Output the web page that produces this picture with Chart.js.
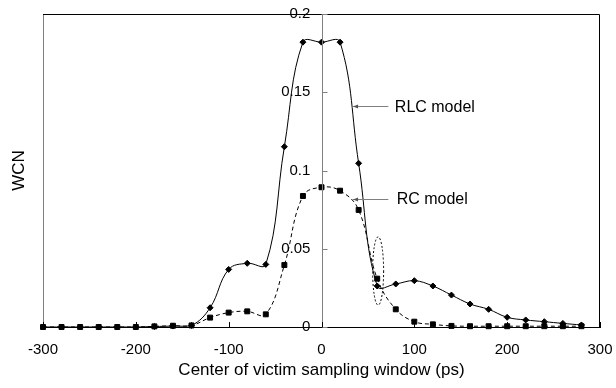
<!DOCTYPE html>
<html>
<head>
<meta charset="utf-8">
<script src="https://cdn.jsdelivr.net/npm/chart.js@4"></script>
<style>
  html, body { margin: 0; padding: 0; background: #fff; }
</style>
</head>
<body>
<canvas id="wcnChart" width="616" height="388"></canvas>
<script>
// sampling window centres (ps)
const windowCenters = [-300, -280, -260, -240, -220, -200, -180, -160, -140, -120,
  -100, -80, -60, -40, -20, 0, 20, 40, 60, 80,
  100, 120, 140, 160, 180, 200, 220, 240, 260, 280];

const rlcValues = [0, 0, 0, 0, 0, 0, 0.0003, 0.0006, 0.001, 0.0123,
  0.0368, 0.0407, 0.0400, 0.1152, 0.182, 0.182, 0.182, 0.1046, 0.0262, 0.0275,
  0.0296, 0.0262, 0.0204, 0.0147, 0.0113, 0.0062, 0.0045, 0.0034, 0.0023, 0.0013];

const rcValues = [0, 0, 0, 0, 0, 0, 0.0004, 0.0008, 0.001, 0.006,
  0.0092, 0.0100, 0.0081, 0.0396, 0.0837, 0.0893, 0.0871, 0.0748, 0.0309, 0.0113,
  0.0034, 0.0017, 0.0007, 0.0005, 0.0005, 0.0005, 0.0005, 0.0005, 0.0005, 0.0005];

const yTickLabels = ['0', '0.05', '0.1', '0.15', '0.2'];

const FONT = "'Liberation Sans', Arial, sans-serif";

const toPoints = vals => vals.map((v, i) => ({x: windowCenters[i], y: v}));

// callouts, in data units
const callouts = [
  {text: 'RLC model', from: [72, 0.141], to: [34, 0.141], label: [79, 0.1405]},
  {text: 'RC model', from: [72, 0.0818], to: [34, 0.0818], label: [81, 0.0812]}
];

const noOverhang = s => {
  s.paddingLeft = 0; s.paddingRight = 0; s.paddingTop = 0; s.paddingBottom = 0;
};

const extras = {
  id: 'extras',
  afterDatasetsDraw(chart) {
    const {ctx, chartArea: a, scales: {x, y}} = chart;
    ctx.save();
    ctx.lineWidth = 1;

    // frame
    ctx.strokeStyle = '#808080';
    ctx.beginPath();
    ctx.moveTo(a.left + 0.5, a.bottom);
    ctx.lineTo(a.left + 0.5, a.top + 0.5);
    ctx.stroke();
    ctx.strokeStyle = '#000';
    ctx.beginPath();
    ctx.moveTo(a.left, a.top + 0.5);
    ctx.lineTo(a.right - 0.5, a.top + 0.5);
    ctx.lineTo(a.right - 0.5, a.bottom);
    ctx.stroke();

    // y axis line at x = 0 with inward ticks
    const x0 = Math.round(x.getPixelForValue(0)) + 0.5;
    ctx.strokeStyle = '#808080';
    ctx.beginPath();
    ctx.moveTo(x0, a.top);
    ctx.lineTo(x0, a.bottom);
    ctx.stroke();
    y.ticks.forEach(t => {
      const py = Math.round(y.getPixelForValue(t.value)) + 0.5;
      ctx.beginPath();
      ctx.moveTo(x0, py);
      ctx.lineTo(x0 + 5, py);
      ctx.stroke();
    });
    ctx.strokeStyle = '#000';
    x.ticks.forEach(t => {
      const px = Math.round(x.getPixelForValue(t.value)) + 0.5;
      ctx.beginPath();
      ctx.moveTo(px, a.bottom);
      ctx.lineTo(px, a.bottom - 5);
      ctx.stroke();
    });

    // callouts
    ctx.font = '16px ' + FONT;
    ctx.textBaseline = 'middle';
    ctx.textAlign = 'left';
    callouts.forEach(c => {
      const fx = x.getPixelForValue(c.from[0]), fy = Math.round(y.getPixelForValue(c.from[1])) + 0.5;
      const tx = x.getPixelForValue(c.to[0]);
      ctx.strokeStyle = '#808080';
      ctx.beginPath();
      ctx.moveTo(fx, fy);
      ctx.lineTo(tx, fy);
      ctx.stroke();
      ctx.fillStyle = '#555';
      ctx.beginPath();
      ctx.moveTo(tx, fy);
      ctx.lineTo(tx + 5, fy - 2);
      ctx.lineTo(tx + 5, fy + 2);
      ctx.closePath();
      ctx.fill();
      ctx.fillStyle = '#000';
      ctx.fillText(c.text, x.getPixelForValue(c.label[0]), y.getPixelForValue(c.label[1]));
    });

    // dotted ellipse around the crossing
    const cx = x.getPixelForValue(61), cy = y.getPixelForValue(0.0358);
    const ry = cy - y.getPixelForValue(0.0358 + 0.0218);
    ctx.strokeStyle = '#000';
    ctx.setLineDash([2, 2]);
    ctx.beginPath();
    ctx.ellipse(cx, cy, 5.5, ry, 0, 0, Math.PI * 2);
    ctx.stroke();
    ctx.setLineDash([]);

    // y title
    ctx.font = '17px ' + FONT;
    ctx.textAlign = 'center';
    ctx.translate(19, (a.top + a.bottom) / 2);
    ctx.rotate(-Math.PI / 2);
    ctx.fillText('WCN', 0, 0);
    ctx.restore();
  }
};

new Chart(document.getElementById('wcnChart'), {
  type: 'line',
  data: {
    datasets: [
      {
        label: 'RLC model',
        data: toPoints(rlcValues),
        borderColor: '#000',
        backgroundColor: '#000',
        borderWidth: 1,
        tension: 0.4,
        pointStyle: 'rectRot',
        pointRadius: 3,
        clip: false
      },
      {
        label: 'RC model',
        data: toPoints(rcValues),
        borderColor: '#000',
        backgroundColor: '#000',
        borderWidth: 1,
        borderDash: [4, 3],
        tension: 0.4,
        pointStyle: 'rect',
        pointRadius: 3.5,
        clip: false
      }
    ]
  },
  options: {
    responsive: false,
    animation: false,
    layout: {padding: {left: 43, right: 16, top: 14, bottom: 0}},
    plugins: {legend: {display: false}, tooltip: {enabled: false}},
    scales: {
      x: {
        type: 'linear',
        position: 'bottom',
        min: -300,
        max: 300,
        ticks: {stepSize: 100, color: '#000', font: {family: FONT, size: 15}, padding: 14, maxRotation: 0},
        grid: {display: false, drawTicks: false},
        border: {color: '#000'},
        title: {
          display: true,
          text: 'Center of victim sampling window (ps)',
          color: '#000',
          font: {family: FONT, size: 17},
          padding: {top: 0, bottom: 7}
        },
        afterFit: s => { s.height = 61; noOverhang(s); }
      },
      y: {
        type: 'linear',
        // labels sit ~11px left of the x = 0 axis line
        position: {x: -12},
        min: 0,
        max: 0.2,
        ticks: {
          stepSize: 0.05,
          color: '#000',
          font: {family: FONT, size: 15},
          callback: (v, i) => yTickLabels[i]
        },
        grid: {display: false, drawTicks: false},
        border: {display: false},
        afterFit: noOverhang
      }
    }
  },
  plugins: [extras]
});
</script>
</body>
</html>
